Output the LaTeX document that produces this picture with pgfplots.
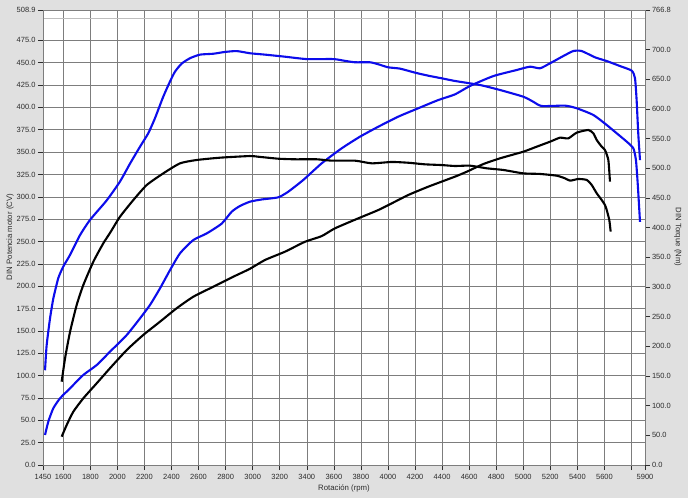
\documentclass[border=0pt]{standalone}
\usepackage{fontspec}
\setmainfont{Liberation Sans}
\usepackage{pgfplots}
\usepackage{pgfplotstable}
\pgfplotsset{compat=1.18}
\definecolor{bg}{RGB}{224,224,224}
\definecolor{gridc}{RGB}{125,125,125}
\definecolor{txt}{RGB}{45,45,45}
\definecolor{pblue}{RGB}{12,12,235}

% Blue torque (Nm)
\pgfplotstableread{
rpm val
1465 159.7
1477 201.9
1502 247.1
1526 280.3
1563 314.9
1600 334.5
1650 354.1
1723 387.2
1797 412.9
1921 446.0
2019 477.7
2093 507.8
2167 536.4
2228 559.0
2278 584.6
2339 620.8
2389 646.4
2426 663.0
2475 676.5
2537 685.6
2611 691.6
2709 693.1
2795 696.1
2882 697.6
2980 693.9
3091 691.6
3239 688.1
3399 684.1
3596 684.1
3682 681.1
3756 678.7
3867 678.7
3929 675.3
4002 670.2
4089 668.0
4200 661.2
4298 656.1
4397 651.7
4495 647.2
4680 640.4
4828 632.0
5000 620.7
5074 612.2
5136 605.0
5309 605.6
5395 601.2
5518 589.9
5617 573.0
5691 559.0
5765 544.9
5814 533.7
5833 513.8
5846 474.6
5863 409.8
}\bluetorque

% Blue power (CV)
\pgfplotstableread{
rpm val
1465 33.6
1489 48.4
1526 63.4
1576 74.6
1650 85.8
1748 100.7
1847 111.8
1945 126.7
2069 145.4
2167 164.0
2241 179.0
2315 197.6
2389 218.0
2463 236.8
2561 251.6
2660 259.0
2771 270.0
2845 283.3
2906 289.7
2980 294.5
3067 297.0
3189 299.4
3263 305.7
3374 318.8
3510 337.4
3658 354.2
3793 367.2
3929 378.4
4076 389.6
4224 399.0
4372 408.2
4495 414.5
4606 423.9
4779 435.0
4952 441.8
5050 445.5
5124 443.7
5198 449.3
5296 457.4
5370 463.0
5432 463.0
5530 456.0
5617 451.8
5715 446.2
5802 441.0
5826 432.5
5838 408.2
5850 371.0
5863 341.0
}\bluepower

% Black torque (Nm)
\pgfplotstableread{
rpm val
1588 140.4
1613 179.8
1650 224.5
1699 269.7
1748 303.3
1822 342.6
1896 373.7
1945 391.0
2019 418.4
2118 446.6
2217 471.9
2339 491.5
2463 508.4
2586 514.0
2758 517.9
2980 520.7
3042 519.5
3189 516.2
3313 515.2
3473 515.2
3584 512.9
3756 512.9
3880 508.4
4028 510.7
4150 509.4
4274 506.7
4397 505.5
4495 503.9
4606 504.5
4730 500.0
4853 497.2
5000 491.5
5124 490.5
5247 487.6
5309 483.1
5346 479.2
5407 482.0
5469 480.4
5506 471.9
5543 457.9
5580 446.6
5604 438.2
5617 429.7
5636 412.9
5646 393.3
}\blacktorque

% Black power (CV)
\pgfplotstableread{
rpm val
1588 31.7
1625 44.7
1674 59.6
1748 74.6
1847 91.4
1945 108.2
2069 128.6
2191 145.4
2315 160.3
2438 175.3
2561 188.2
2709 199.4
2857 210.6
2980 219.5
3091 229.3
3239 238.6
3387 249.7
3510 256.0
3608 264.7
3781 275.9
3929 285.2
4052 294.5
4150 302.0
4298 311.3
4495 322.5
4582 328.0
4705 336.6
4828 343.0
5000 350.4
5099 356.0
5198 361.6
5272 366.1
5333 365.3
5395 371.7
5481 374.7
5518 371.0
5543 363.5
5580 356.0
5604 352.3
5629 341.1
5641 316.9
}\blackpower

\begin{document}
\begin{tikzpicture}[x=1pt,y=1pt]
\fill[bg] (0,0) rectangle (688,498);
\useasboundingbox (0,0) rectangle (688,498);
\pgfplotsset{common/.style={
  scale only axis, width=602pt, height=455pt,
  at={(43pt,33pt)}, anchor=south west,
  xmin=1450, xmax=5900,
  tick align=outside,
  major tick length=5pt,
  tick style={txt, line width=0.5pt},
  axis line style={gridc, line width=0.5pt},
  tick label style={font=\fontsize{7.5}{9}\selectfont, text=txt},
  /pgf/number format/assume math mode=true,
  yticklabel style={/pgf/number format/fixed, /pgf/number format/fixed zerofill, /pgf/number format/precision=1},
  every axis plot/.append style={line width=2.1pt, line join=round, smooth, tension=0.35},
}}
\begin{axis}[common,
  axis background/.style={fill=white},
  ymin=0, ymax=508.9,
  ytick={0,25,...,475,508.9},
  ytick pos=left,
  xtick pos=bottom,
  xtick={1450,1600,1800,2000,2200,2400,2600,2800,3000,3200,3400,3600,3800,4000,4200,4400,4600,4800,5000,5200,5400,5600,5800,5900},
  xticklabels={1450,1600,1800,2000,2200,2400,2600,2800,3000,3200,3400,3600,3800,4000,4200,4400,4600,4800,5000,5200,5400,5600,,5900},
  xticklabel style={yshift=-1pt},
  yticklabel style={xshift=1pt},
  grid=major,
  grid style={gridc, line width=0.5pt},
  extra y ticks={500},
  extra y tick labels={},
  extra y tick style={major tick length=0pt, grid style={gridc!50, line width=0.6pt}},
]
\addplot[pblue] table[x=rpm,y=val]{\bluepower};
\addplot[black] table[x=rpm,y=val]{\blackpower};
\end{axis}
\begin{axis}[common,
  ymin=0, ymax=766.8,
  ytick={0,50,...,700,766.8},
  hide x axis,
  ytick pos=right,
  yticklabel pos=right,
  yticklabel style={xshift=-1.5pt},
]
\addplot[pblue] table[x=rpm,y=val]{\bluetorque};
\addplot[black] table[x=rpm,y=val]{\blacktorque};
\end{axis}
\node[rotate=90, font=\fontsize{7.8}{9}\selectfont, text=txt] at (10,261) {DIN Potencia motor (CV)};
\node[rotate=-90, font=\fontsize{7.8}{9}\selectfont, text=txt] at (678,261) {DIN Torque (Nm)};
\node[font=\fontsize{7.8}{9}\selectfont, text=txt] at (344,10) {Rotación (rpm)};
\end{tikzpicture}
\end{document}
